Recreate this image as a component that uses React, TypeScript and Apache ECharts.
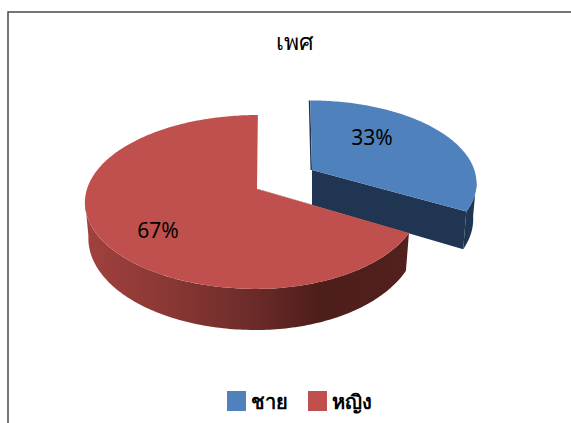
import React, { useEffect, useRef } from "react";
import * as echarts from "echarts";

const chartTitle = "เพศ";
const categories = ["ชาย", "หญิง"];
const shareValues = [33, 67];
const topColors = ["#4f81bd", "#c0504d"];
const wallColors = ["#1f3552", "#a2413d"];

const FONT = '"Noto Sans", sans-serif';
const K = 0.149;
const RX = 170;
const RY = 85;
const LIMIT = Math.acos(-K);

const layouts = [
  { ax: 312, ay: 170, sx: 0.955, sxRight: 0.955, sy: 0.94, depth: 35, tilt: -2, sliver: -1.5, lx: 372, ly: 137, gradient: false },
  { ax: 257, ay: 189, sx: 1, sxRight: 0.95, sy: 1, depth: 35, tilt: 1, sliver: 1, lx: 158, ly: 230, gradient: true },
];

function project(l: any, theta: number, bottom: boolean) {
  const w = 1 + K * Math.cos(theta);
  const sx = Math.sin(theta) > 0 ? l.sxRight : l.sx;
  const dx = (sx * RX * Math.sin(theta) + l.tilt * Math.cos(theta)) / w;
  const dy = (-l.sy * RY * Math.cos(theta)) / w;
  if (!bottom) return [l.ax + dx, l.ay + dy];
  return [l.ax + dx * 0.98, l.ay + dy + l.depth / w];
}

function arcPoints(l: any, from: number, to: number, bottom: boolean) {
  const pts: number[][] = [];
  const n = Math.max(2, Math.ceil(((to - from) * 180) / Math.PI));
  for (let i = 0; i <= n; i++) pts.push(project(l, from + ((to - from) * i) / n, bottom));
  return pts;
}

function makeRenderItem(index: number) {
  return (_params: any, api: any) => {
    const value = api.value(0);
    const total = shareValues.reduce((a, b) => a + b, 0);
    const before = shareValues.slice(0, index).reduce((a, b) => a + b, 0);
    const start = (before / total) * Math.PI * 2;
    const end = ((before + value) / total) * Math.PI * 2;
    const l = layouts[index];
    const children: any[] = [];
    const apexTop = [l.ax, l.ay];
    const apexBottom = [l.ax, l.ay + l.depth];

    const wallFrom = Math.max(start, LIMIT - 0.02);
    const wallTo = Math.min(end, Math.PI * 2 - LIMIT + 0.02);
    const wallFill = l.gradient
      ? new echarts.graphic.LinearGradient(0, 0, 1, 0, [
          { offset: 0, color: "#a2413d" },
          { offset: 0.25, color: "#8a3835" },
          { offset: 0.5, color: "#6e2c2a" },
          { offset: 0.72, color: "#4e1e1b" },
          { offset: 1, color: "#52201d" },
        ])
      : wallColors[index];

    if (wallTo > wallFrom) {
      const wall = [...arcPoints(l, wallFrom, wallTo, false), ...arcPoints(l, wallFrom, wallTo, true).reverse()];
      children.push({ type: "polygon", shape: { points: wall }, style: { fill: wallFill } });
    }
    if (index === 0) {
      const cut = [apexTop, project(l, end, false), project(l, end, true), apexBottom];
      children.push({ type: "polygon", shape: { points: cut }, style: { fill: wallColors[index] } });
    }
    const sliverTop = project(l, start, false);
    children.push({
      type: "polygon",
      shape: {
        points: [
          apexTop,
          sliverTop,
          [sliverTop[0] + l.sliver, sliverTop[1]],
          [apexTop[0] + l.sliver, apexTop[1]],
        ],
      },
      style: { fill: index === 0 ? wallColors[0] : "#6e2c2a" },
    });
    children.push({
      type: "polygon",
      shape: { points: [apexTop, ...arcPoints(l, start, end, false)] },
      style: { fill: topColors[index] },
    });
    children.push({
      type: "text",
      x: l.lx,
      y: l.ly,
      style: {
        text: `${Math.round((value / total) * 100)}%`,
        font: `21px ${FONT}`,
        fill: "#000000",
        align: "center",
        verticalAlign: "middle",
      },
    });
    return { type: "group", children };
  };
}

export default function App() {
  const ref = useRef<HTMLDivElement>(null);
  useEffect(() => {
    document.body.style.margin = "0";
    document.body.style.overflow = "hidden";
    const chart = echarts.init(ref.current!, null, { renderer: "svg" });
    chart.setOption({
      animation: false,
      backgroundColor: "#ffffff",
      title: {
        text: chartTitle,
        left: 271,
        top: 24,
        textStyle: { fontFamily: FONT, fontSize: 23, fontWeight: "normal", color: "#000000" },
      },
      legend: {
        data: categories,
        left: 222,
        top: 386,
        itemWidth: 19,
        itemHeight: 20,
        itemGap: 20,
        icon: "rect",
        textStyle: { fontFamily: FONT, fontSize: 20, fontWeight: "bold", color: "#000000", padding: [0, 0, 4, 0] },
      },
      graphic: [
        {
          type: "rect",
          shape: { x: 8, y: 12, width: 700, height: 600 },
          style: { fill: "none", stroke: "#4a4a4a", lineWidth: 1.5 },
          silent: true,
          z: 0,
        },
      ],
      series: categories.map((name, i) => ({
        type: "custom",
        name,
        coordinateSystem: "none",
        itemStyle: { color: topColors[i] },
        renderItem: makeRenderItem(i),
        data: [[shareValues[i]]],
        silent: true,
      })),
    });
    return () => chart.dispose();
  }, []);
  return <div ref={ref} style={{ width: 571, height: 423 }} />;
}
